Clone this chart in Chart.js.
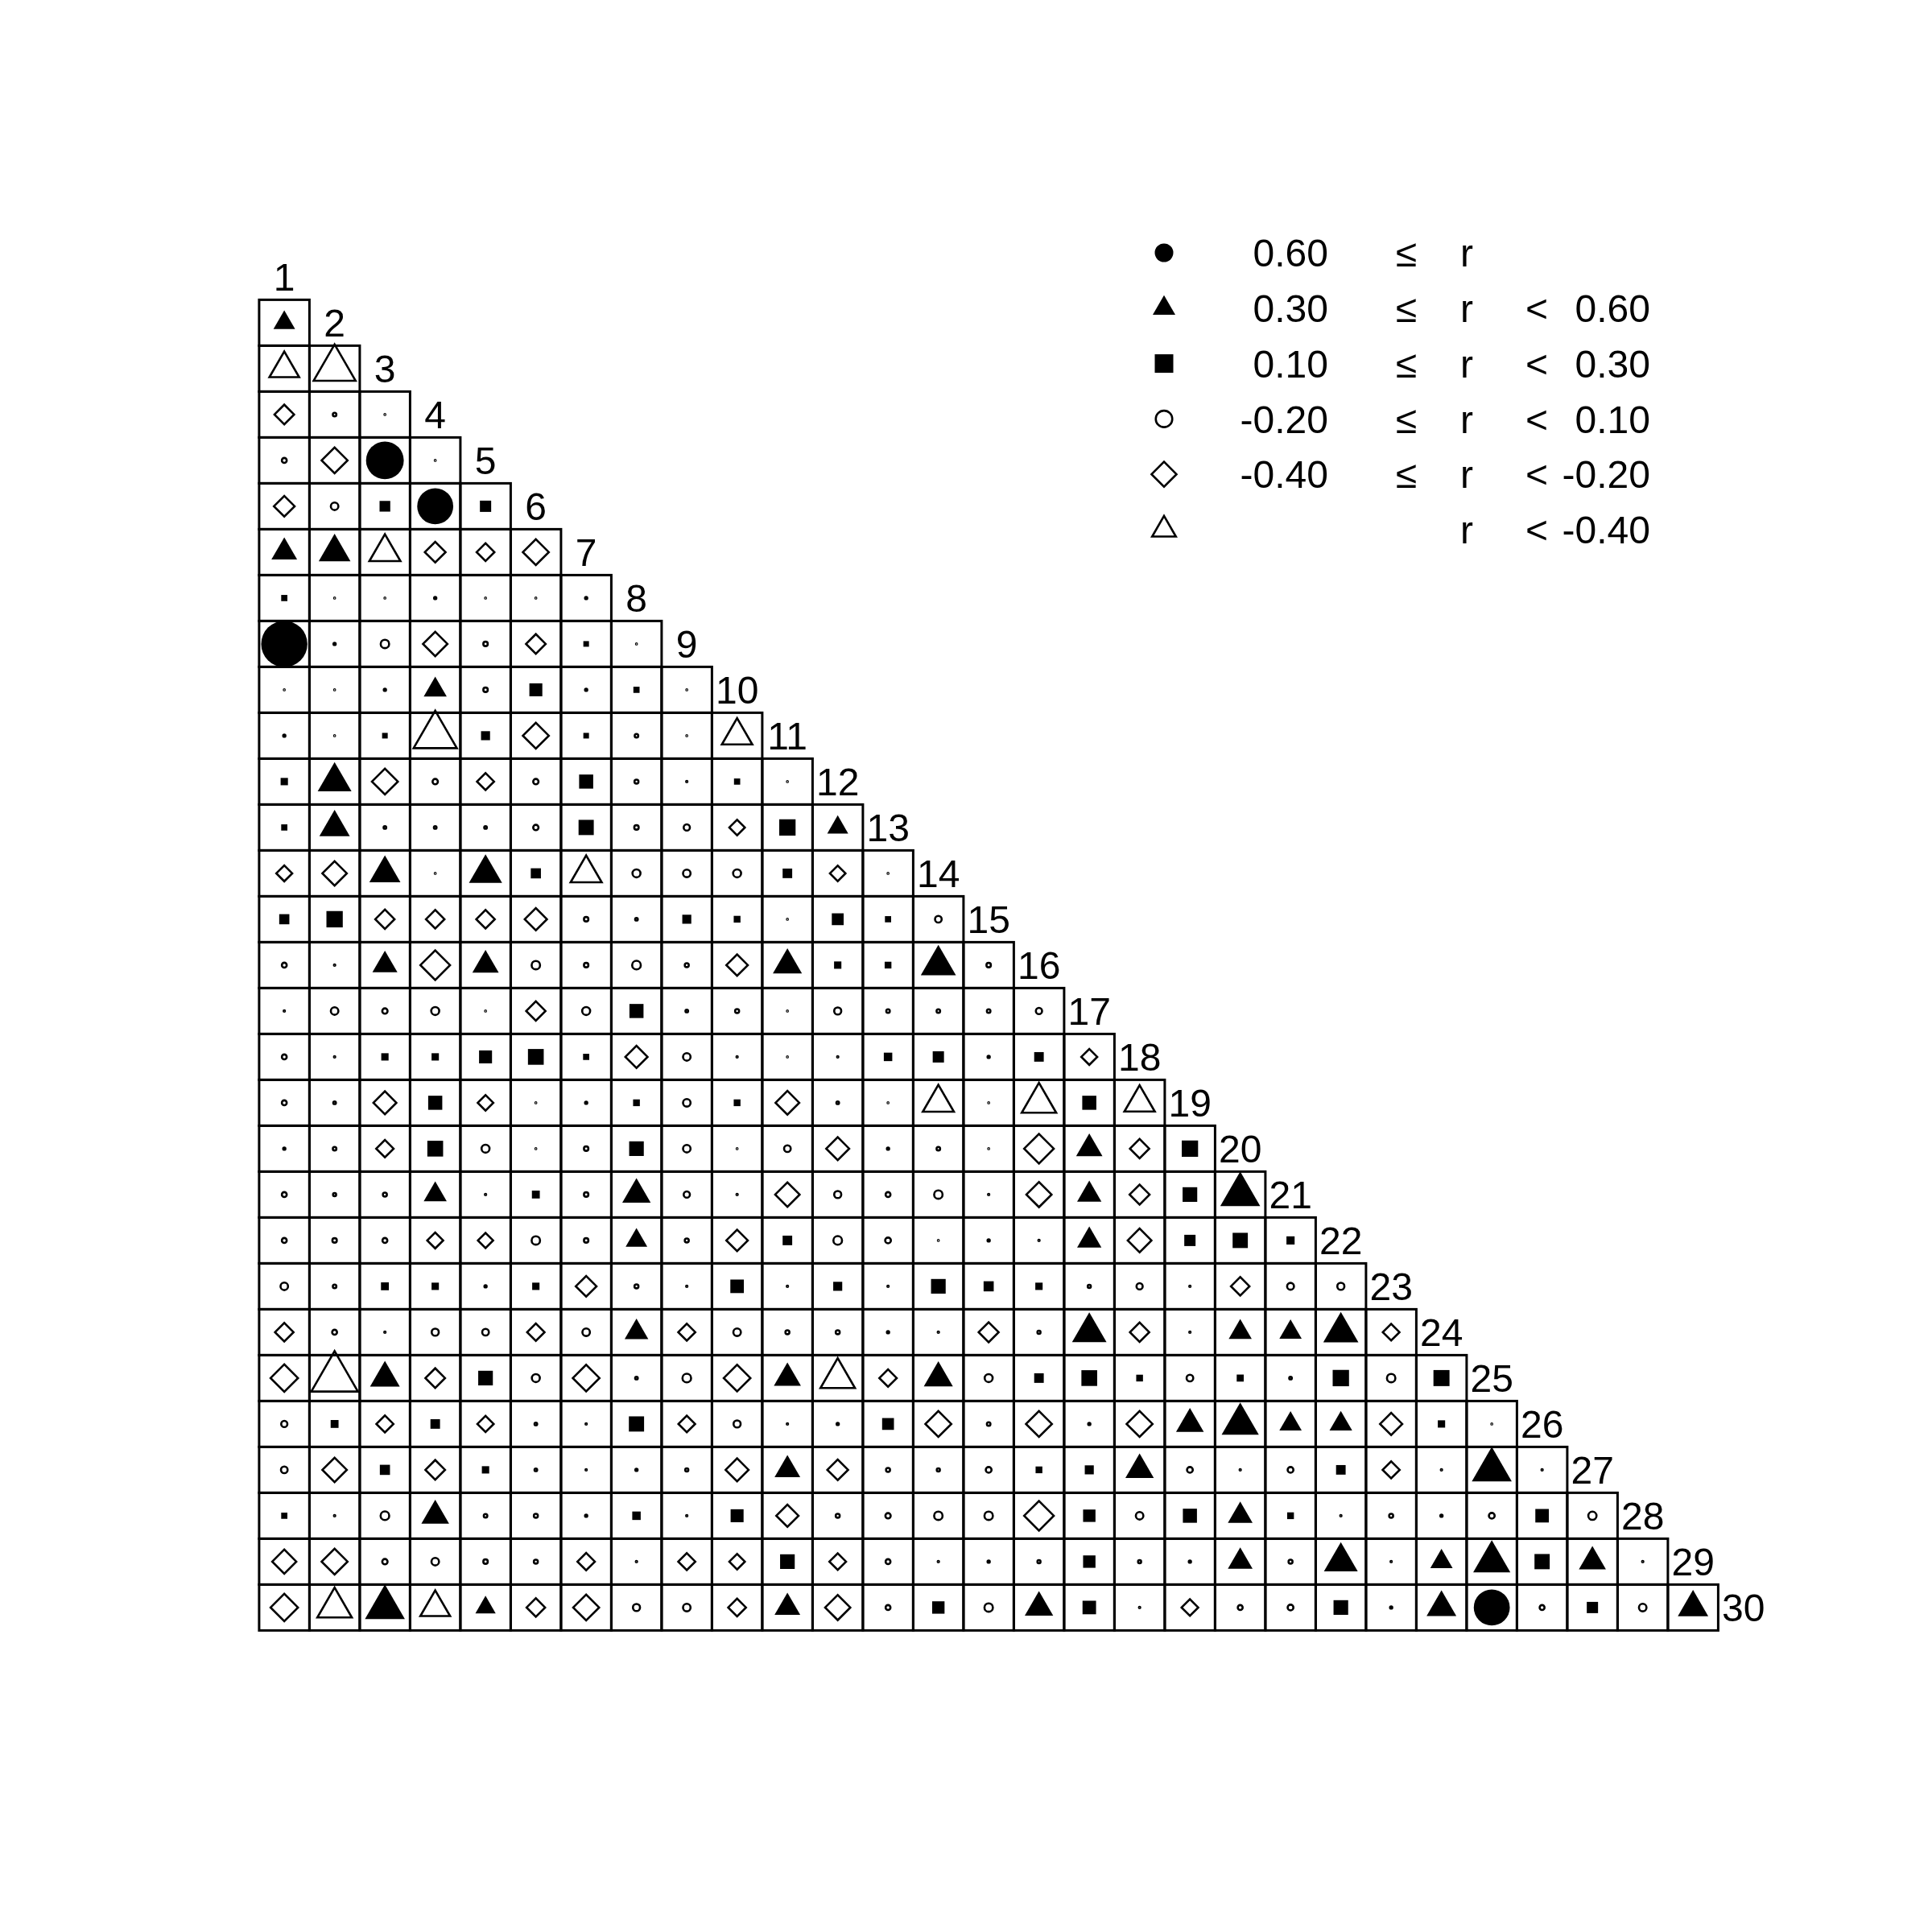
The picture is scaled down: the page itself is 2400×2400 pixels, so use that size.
<!DOCTYPE html>
<html><head><meta charset="utf-8">
<script src="https://cdn.jsdelivr.net/npm/chart.js@4.4.1/dist/chart.umd.min.js"></script>
<style>html,body{margin:0;padding:0;background:#fff}canvas{display:block}</style>
</head><body>
<canvas id="c" width="2400" height="2400"></canvas>
<script>
// variable labels (diagonal)
const variables = ['1','2','3','4','5','6','7','8','9','10','11','12','13','14','15',
  '16','17','18','19','20','21','22','23','24','25','26','27','28','29','30'];

// correlations of variable k with variables 1..k-1
const r02 = [0.32];
const r03 = [-0.44, -0.62];
const r04 = [-0.265, -0.08, 0.02];
const r05 = [-0.11, -0.35, 0.67, 0.02];
const r06 = [-0.28, -0.17, 0.19, 0.64, 0.20];
const r07 = [0.38, 0.47, -0.46, -0.28, -0.24, -0.35];
const r08 = [0.11, 0.02, 0.02, -0.05, 0.02, 0.02, 0.05];
const r09 = [0.82, 0.05, -0.19, -0.33, -0.10, -0.265, 0.10, 0.02];
const r10 = [0.02, 0.02, -0.05, 0.34, -0.10, 0.23, 0.05, 0.11, 0.02];
const r11 = [0.05, 0.02, 0.10, -0.64, 0.16, -0.35, 0.10, -0.08, 0.02, -0.45];
const r12 = [0.13, 0.50, -0.35, -0.12, -0.23, -0.12, 0.25, -0.09, 0.03, 0.11, 0.02];
const r13 = [0.11, 0.45, 0.06, 0.06, 0.06, -0.12, 0.27, -0.10, -0.14, -0.21, 0.29, 0.31];
const r14 = [-0.215, -0.33, 0.46, 0.02, 0.49, 0.18, -0.46, -0.18, -0.17, -0.18, 0.17, -0.21, 0.02];
const r15 = [0.18, 0.29, -0.26, -0.25, -0.25, -0.30, -0.10, 0.06, 0.16, 0.12, 0.02, 0.21, 0.11, -0.15];
const r16 = [-0.11, 0.03, 0.37, -0.40, 0.39, -0.19, -0.10, -0.195, -0.09, -0.29, 0.43, 0.13, 0.12, 0.52, -0.10];
const r17 = [0.03, -0.17, -0.12, -0.18, 0.02, -0.26, -0.18, 0.25, -0.06, -0.09, 0.02, -0.16, -0.08, -0.08, -0.08, -0.14];
const r18 = [-0.11, 0.03, 0.13, 0.13, 0.23, 0.28, 0.11, -0.30, -0.17, 0.03, 0.02, 0.03, 0.15, 0.20, -0.05, 0.17, -0.215];
const r19 = [-0.11, 0.06, -0.31, 0.25, -0.21, 0.02, 0.05, 0.12, -0.17, 0.12, -0.32, -0.06, 0.02, -0.46, 0.02, -0.51, 0.25, -0.45];
const r20 = [0.05, -0.08, -0.235, 0.28, -0.18, 0.02, -0.10, 0.26, -0.17, 0.02, -0.15, -0.31, 0.05, -0.08, 0.02, -0.40, 0.39, -0.26, 0.29];
const r21 = [-0.11, -0.07, -0.09, 0.34, 0.03, 0.14, -0.10, 0.42, -0.14, 0.03, -0.33, -0.16, -0.11, -0.19, 0.03, -0.34, 0.36, -0.27, 0.26, 0.59];
const r22 = [-0.11, -0.10, -0.11, -0.215, -0.205, -0.19, -0.10, 0.32, -0.09, -0.29, 0.17, -0.195, -0.13, 0.02, 0.05, 0.03, 0.36, -0.32, 0.20, 0.27, 0.145];
const r23 = [-0.17, -0.08, 0.14, 0.13, 0.05, 0.13, -0.28, -0.09, 0.03, 0.24, 0.03, 0.16, 0.03, 0.26, 0.18, 0.13, -0.07, -0.14, 0.03, -0.25, -0.155, -0.16];
const r24 = [-0.25, -0.11, 0.03, -0.16, -0.15, -0.235, -0.17, 0.35, -0.23, -0.17, -0.09, -0.09, 0.05, 0.03, -0.27, -0.07, 0.51, -0.26, 0.03, 0.34, 0.33, 0.52, -0.225];
const r25 = [-0.37, -0.69, 0.44, -0.265, 0.26, -0.18, -0.36, 0.06, -0.195, -0.36, 0.40, -0.51, -0.235, 0.43, -0.18, 0.17, 0.28, 0.12, -0.15, 0.125, 0.06, 0.29, -0.19, 0.285];
const r26 = [-0.14, 0.14, -0.23, 0.17, -0.22, -0.06, 0.03, 0.27, -0.225, -0.16, 0.03, 0.05, 0.21, -0.35, -0.08, -0.35, 0.05, -0.35, 0.41, 0.55, 0.33, 0.335, -0.30, 0.13, 0.02];
const r27 = [-0.15, -0.33, 0.18, -0.265, 0.13, -0.06, 0.03, 0.05, -0.07, -0.31, 0.38, -0.28, -0.09, -0.07, -0.13, 0.12, 0.16, 0.42, -0.13, 0.03, -0.13, 0.17, -0.23, 0.03, 0.59, 0.03];
const r28 = [0.11, 0.03, -0.195, 0.41, -0.08, -0.09, 0.05, 0.15, 0.03, 0.23, -0.30, -0.09, -0.12, -0.19, -0.19, -0.40, 0.22, -0.17, 0.25, 0.365, 0.12, 0.03, -0.09, 0.05, -0.13, 0.24, -0.185];
const r29 = [-0.325, -0.35, -0.12, -0.17, -0.10, -0.09, -0.235, 0.03, -0.23, -0.21, 0.26, -0.225, -0.11, 0.03, 0.05, -0.07, 0.22, -0.07, 0.05, 0.365, -0.09, 0.50, 0.03, 0.33, 0.55, 0.27, 0.40, 0.03];
const r30 = [-0.37, -0.51, 0.59, -0.44, 0.30, -0.25, -0.35, -0.16, -0.17, -0.24, 0.38, -0.34, -0.11, 0.22, -0.19, 0.42, 0.24, 0.03, -0.225, -0.11, -0.13, 0.26, 0.05, 0.44, 0.64, -0.11, 0.20, -0.17, 0.45];

const rows = [r02, r03, r04, r05, r06, r07, r08, r09, r10, r11, r12, r13, r14, r15, r16,
  r17, r18, r19, r20, r21, r22, r23, r24, r25, r26, r27, r28, r29, r30];

// legend
const legendLower = ['0.60', '0.30', '0.10', '-0.20', '-0.40', ''];
const legendUpper = ['', '0.60', '0.30', '0.10', '-0.20', '-0.40'];
const thresholds = [0.6, 0.3, 0.1, -0.2, -0.4];

// symbol styles per class (style only)
const SQ3 = Math.sqrt(3);
const classStyle = [
  {ps: 'circle',   filled: true,  perR: 70, rad: w => w / 2,   legendW: 23},
  {ps: 'triangle', filled: true,  perR: 84, rad: w => w / SQ3, legendW: 28},
  {ps: 'rect',     filled: true,  perR: 70, rad: w => w / Math.SQRT2, legendW: 23},
  {ps: 'circle',   filled: false, perR: 55, rad: w => w / 2,   legendW: 20.5},
  {ps: 'rectRot',  filled: false, perR: 92, rad: w => w / 2,   legendW: 31},
  {ps: 'triangle', filled: false, perR: 84, rad: w => w / SQ3, legendW: 29.5}
];
const STROKE = 2.6;
const GRIDW = 3;
const FSIZE = 48;
const FONT = FSIZE + 'px "Liberation Sans", Arial, sans-serif';

function classOf(v) {
  for (let i = 0; i < thresholds.length; i++) if (v >= thresholds[i]) return i;
  return thresholds.length;
}

const datasets = classStyle.map((st, k) => ({
  label: 'class' + k,
  data: [],
  pointStyle: st.ps,
  pointRadius: ctx => { const raw = ctx.raw; return raw ? st.rad(st.perR * Math.abs(raw.v)) : 0; },
  pointHoverRadius: ctx => { const raw = ctx.raw; return raw ? st.rad(st.perR * Math.abs(raw.v)) : 0; },
  pointBackgroundColor: st.filled ? '#000' : 'rgba(0,0,0,0)',
  pointBorderColor: '#000',
  pointBorderWidth: st.filled ? 0 : STROKE,
  pointHoverBorderWidth: st.filled ? 0 : STROKE,
  showLine: false,
  clip: false
}));
rows.forEach((vals, i) => {
  const row = i + 1;
  vals.forEach((v, j) => {
    datasets[classOf(v)].data.push({x: j + 1, y: row, v: v});
  });
});

function drawSym(ctx, st, x, y, R) {
  ctx.beginPath();
  if (st.ps === 'circle') ctx.arc(x, y, R, 0, Math.PI * 2);
  else if (st.ps === 'triangle') {
    ctx.moveTo(x, y - R); ctx.lineTo(x + R * SQ3 / 2, y + R / 2); ctx.lineTo(x - R * SQ3 / 2, y + R / 2); ctx.closePath();
  } else if (st.ps === 'rect') {
    const h = R / Math.SQRT2; ctx.rect(x - h, y - h, 2 * h, 2 * h);
  } else {
    ctx.moveTo(x - R, y); ctx.lineTo(x, y - R); ctx.lineTo(x + R, y); ctx.lineTo(x, y + R); ctx.closePath();
  }
  if (st.filled) { ctx.fillStyle = '#000'; ctx.fill(); }
  else { ctx.lineWidth = STROKE; ctx.strokeStyle = '#000'; ctx.stroke(); }
}

const framePlugin = {
  id: 'frame',
  beforeDraw(chart) {
    const ctx = chart.ctx;
    ctx.save(); ctx.fillStyle = '#fff'; ctx.fillRect(0, 0, chart.width, chart.height); ctx.restore();
  },
  beforeDatasetsDraw(chart) {
    const ctx = chart.ctx, xs = chart.scales.x, ys = chart.scales.y;
    ctx.save();
    ctx.strokeStyle = '#000'; ctx.lineWidth = GRIDW; ctx.lineJoin = 'miter';
    rows.forEach((vals, i) => {
      const row = i + 1;
      const y0 = ys.getPixelForValue(row - 0.5), y1 = ys.getPixelForValue(row + 0.5);
      vals.forEach((v, j) => {
        const c = j + 1;
        const x0 = xs.getPixelForValue(c - 0.5), x1 = xs.getPixelForValue(c + 0.5);
        ctx.strokeRect(x0, y0, x1 - x0, y1 - y0);
      });
    });
    ctx.restore();
  },
  afterDatasetsDraw(chart) {
    const ctx = chart.ctx, xs = chart.scales.x, ys = chart.scales.y;
    ctx.save();
    ctx.fillStyle = '#000'; ctx.font = FONT; ctx.textAlign = 'center'; ctx.textBaseline = 'alphabetic';
    const off = FSIZE * 0.358;
    variables.forEach((lab, k) => {
      ctx.fillText(lab, xs.getPixelForValue(k + 1), ys.getPixelForValue(k) + off);
    });
    // legend
    const lx = 1446, ly0 = 314, dy = 68.8;
    classStyle.forEach((st, i) => {
      const y = ly0 + i * dy;
      drawSym(ctx, st, lx, y, st.rad(st.legendW));
      ctx.fillStyle = '#000';
      if (legendLower[i]) {
        ctx.textAlign = 'right'; ctx.fillText(legendLower[i], 1650, y + off);
        ctx.textAlign = 'center'; ctx.fillText('\u2264', 1747, y + off);
      }
      ctx.textAlign = 'center'; ctx.fillText('r', 1822, y + off);
      if (legendUpper[i]) {
        ctx.textAlign = 'center'; ctx.fillText('<', 1909, y + off);
        ctx.textAlign = 'right'; ctx.fillText(legendUpper[i], 2050, y + off);
      }
    });
    ctx.restore();
  }
};

new Chart(document.getElementById('c'), {
  type: 'scatter',
  data: {datasets},
  options: {
    responsive: false,
    animation: false,
    events: [],
    layout: {padding: {left: 321.9, right: 203.1, top: 315.4, bottom: 374.6}},
    scales: {
      x: {type: 'linear', min: 0.5, max: 30.5, display: false},
      y: {type: 'linear', min: -0.5, max: 29.5, reverse: true, display: false}
    },
    plugins: {legend: {display: false}, tooltip: {enabled: false}, title: {display: false}}
  },
  plugins: [framePlugin]
});
</script>
</body></html>
